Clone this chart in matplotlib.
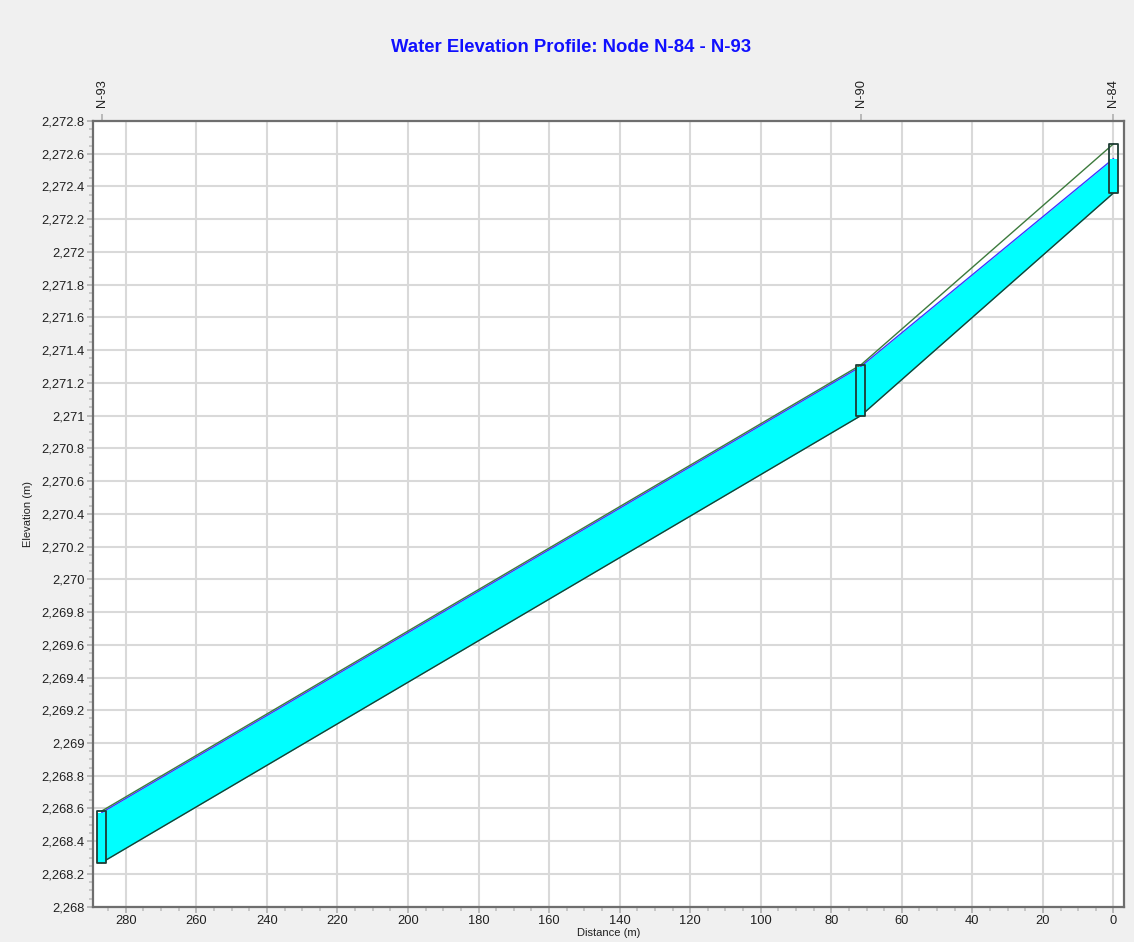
import numpy as np
import matplotlib.pyplot as plt
from matplotlib.patches import Rectangle
from matplotlib.ticker import MultipleLocator, FuncFormatter

# node data (distance measured from N-84)
node_names = ["N-93", "N-90", "N-84"]
node_dist = [286.8, 71.6, 0.0]
ground = [2268.585, 2271.31, 2272.66]
hgl = [2268.575, 2271.30, 2272.57]
invert = [2268.27, 2271.00, 2272.36]

plt.rcParams['font.family'] = ['Liberation Sans', 'DejaVu Sans']

fig = plt.figure(figsize=(11.34, 9.42), dpi=100, facecolor='#f0f0f0')
ax = fig.add_axes([93 / 1134, 1 - 906.7 / 942, (1124 - 93) / 1134, (906.7 - 121) / 942])
ax.set_facecolor('white')

ax.set_xlim(289.3, -3.0)
ax.set_ylim(2268, 2272.8)

# water (hgl to invert)
ax.fill_between(node_dist, invert, hgl, color='#00ffff', lw=0, zorder=2)
ax.plot(node_dist, invert, color='#1e3c2e', lw=1.0, zorder=3)
ax.plot(node_dist, hgl, color='#3a3aff', lw=1.0, zorder=3)
ax.plot(node_dist, ground, color='#3c7a3c', lw=1.0, zorder=3)

# node boxes
box_w = 2.6
for d, g, h, inv in zip(node_dist, ground, hgl, invert):
    top = max(g, h)
    ax.add_patch(Rectangle((d - box_w / 2, inv), box_w, min(h, top) - inv,
                           facecolor='#00ffff', edgecolor='none', zorder=4))
    ax.add_patch(Rectangle((d - box_w / 2, inv), box_w, top - inv,
                           facecolor='none', edgecolor='#1e3c34', lw=1.3,
                           joinstyle='round', zorder=5))

# axes styling
ax.xaxis.set_major_locator(MultipleLocator(20))
ax.xaxis.set_minor_locator(MultipleLocator(5))
ax.yaxis.set_major_locator(MultipleLocator(0.2))
ax.yaxis.set_minor_locator(MultipleLocator(0.05))


def elev_fmt(v, pos):
    s = f"{v:,.1f}"
    if s.endswith(".0"):
        s = s[:-2]
    return s


ax.yaxis.set_major_formatter(FuncFormatter(elev_fmt))
ax.grid(True, which='major', color='#d9d9d9', lw=1.5, zorder=0)
ax.set_axisbelow(True)
for sp in ax.spines.values():
    sp.set_color('#6e6e6e')
    sp.set_linewidth(1.6)
ax.tick_params(which='major', length=4, width=1.2, color='#b0b0b0',
               labelsize=9.3, labelcolor='#202020', pad=2)
ax.tick_params(which='minor', length=3, width=1.2, color='#c0c0c0')

ax.set_xlabel('Distance (m)', fontsize=8, color='#202020', labelpad=1)
ax.set_ylabel('Elevation (m)', fontsize=8, color='#202020', labelpad=6)

# node labels on top
top = ax.secondary_xaxis('top')
top.set_xticks(node_dist)
top.set_xticklabels(node_names, rotation=90)
top.tick_params(length=5, width=1.2, color='#b0b0b0', labelsize=9.3,
                labelcolor='#202020', pad=5)
top.spines['top'].set_visible(False)

fig.text(0.5035, 1 - 48 / 942, 'Water Elevation Profile: Node N-84 - N-93',
         ha='center', va='center', fontsize=13.3, fontweight='bold', color='#1010ff')

fig.savefig('out.png', dpi=100, facecolor=fig.get_facecolor())
